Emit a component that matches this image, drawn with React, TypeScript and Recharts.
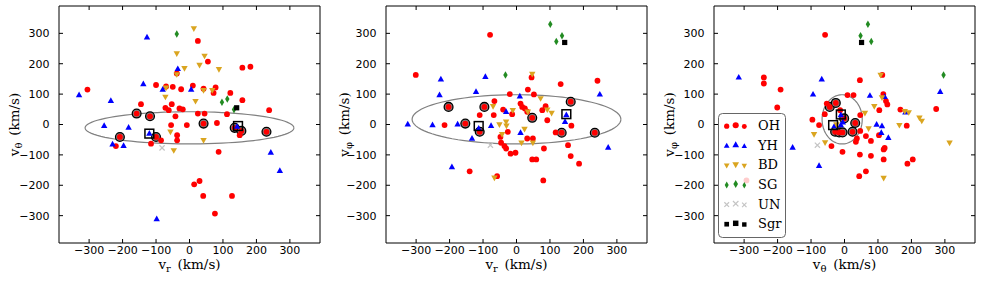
import React from 'react';
import { ScatterChart, Scatter, XAxis, YAxis, ReferenceArea, Legend } from 'recharts';

const TICKS = [-300, -200, -100, 0, 100, 200, 300];
const LIM: [number, number] = [-390, 390];

// ---- panel 1: v_r vs v_theta ----
const ohRT = [[-305, 115], [-100, 130], [-70, 125], [-50, 124], [-25, 116], [10, 128], [25, 275], [55, 207], [42, 118], [78, 122], [72, 104], [122, 104], [158, 187], [182, 190], [158, 80], [238, 47], [112, 34], [-145, 67], [-72, 55], [-62, 47], [-53, 67], [-30, 53], [-20, 50], [-42, 27], [25, 36], [45, 36], [-55, -2], [-8, -2], [82, 5], [-38, 168], [-37, -35], [-37, -52], [-85, -52], [-115, -63], [-220, -71], [150, -35], [87, -90], [14, -197], [30, -186], [41, -235], [127, -235], [76, -293]];
const ringRT = [[-158, 36], [-118, 27], [-208, -41], [-100, -41], [42, 3], [135, -11], [155, -21], [230, -24]];
const boxRT = [[-120, -30], [145, -5]];
const yhRT = [[-330, 97], [-235, 78], [-138, 133], [-127, 287], [-80, 115], [-35, 183], [5, 115], [-255, -4], [-182, -10], [-230, -65], [-197, -70], [-120, -30], [142, -7], [243, -92], [270, -152], [-98, -311]];
const bdRT = [[13, 316], [-38, 234], [45, 226], [30, 196], [-15, 185], [88, 182], [-38, 165], [-72, 91], [-70, 121], [42, 113], [68, 113], [18, 77], [-57, -24], [42, -52], [-47, -85]];
const sgRT = [[-38, 298], [97, 73], [113, 84], [133, 49]];
const unRT = [[-82, -77]];
const sgrRT = [[141, 55]];

// ---- panel 2: v_r vs v_phi ----
const ohRP = [[-79, 295], [-301, 163], [45, 155], [132, 133], [242, 144], [-20, 100], [34, 115], [52, 99], [-66, 77], [-40, 49], [12, 69], [17, 58], [25, 53], [32, 42], [87, 60], [77, 47], [92, 14], [-110, 31], [-68, 31], [-13, 34], [-215, -2], [164, -4], [32, -46], [49, -46], [117, -26], [-48, -41], [-26, -24], [-46, -60], [-36, -71], [-31, -79], [-18, -96], [-3, -93], [47, -115], [59, -115], [82, -79], [154, -68], [162, -104], [187, -129], [-140, -154], [-58, -170], [80, -184]];
const ringRP = [[-203, 58], [-96, 58], [162, 75], [-153, 3], [47, 22], [-110, -24], [135, -27], [234, -27]];
const boxRP = [[-113, -5], [149, 34]];
const yhRP = [[-226, 149], [-93, 157], [-230, 97], [-121, 108], [10, 93], [249, 99], [-31, 42], [149, 31], [145, 9], [-325, 1], [-251, -2], [-176, 1], [-113, -13], [-76, -4], [12, -27], [-133, -46], [274, -76], [-193, -140]];
const bdRP = [[47, 166], [72, 86], [-70, 60], [-11, 47], [34, 42], [92, 49], [105, 38], [-51, 0], [-31, 9], [-30, -4], [24, -15], [-43, -32], [15, -60], [49, -60], [-66, -175]];
const sgRP = [[101, 330], [136, 292], [119, 273], [-33, 163]];
const unRP = [[-78, -68]];
const sgrRP = [[144, 270]];

// ---- panel 3: v_theta vs v_phi ----
const ohTP = [[-58, 295], [-241, 155], [-241, 135], [-191, 115], [46, 146], [113, 163], [-201, 56], [9, 97], [27, 97], [116, 100], [104, 47], [124, 77], [128, 66], [167, 49], [274, 51], [103, -35], [186, -4], [120, -77], [117, -82], [117, -115], [188, -129], [204, -115], [46, -99], [79, -103], [64, -154], [44, -170], [-96, 16], [-76, -2], [-39, -71], [-6, -90], [-13, 47], [-53, 69], [-59, 34], [47, 31], [47, -21], [37, -46], [34, -57], [64, -38], [79, -54], [-293, -184]];
const ringTP = [[-44, 58], [-26, 71], [-1, 20], [32, 5], [24, -24], [-28, -24], [-16, -26], [-6, -26]];
const boxTP = [[-34, -2], [-11, 33]];
const yhTP = [[-316, 155], [-68, 149], [286, 108], [-94, 99], [76, 95], [120, 91], [182, 40], [96, 0], [112, -5], [110, -27], [131, -44], [-76, -136], [-155, -76], [-11, 31], [-30, -5], [-11, -2], [-5, 7]];
const bdTP = [[108, 163], [112, 89], [89, 60], [61, 38], [180, 44], [192, 40], [224, 22], [231, 12], [72, -13], [164, -2], [314, -60], [117, -176], [-91, -32], [-58, -59], [-24, 0]];
const sgTP = [[70, 330], [48, 292], [80, 273], [296, 163]];
const unTP = [[-81, -68]];
const sgrTP = [[51, 270]];

// velocity ellipses: centre and semi-axes (km/s)
const ellRT = { cx: 0, cy: -11, a: 312, b: 53 };
const ellRP = { cx: 0, cy: 17, a: 312, b: 81 };
const ellTP = { cx: -7, cy: 17, a: 60, b: 81 };

const RED = '#ff0000';
const BLUE = '#0000ff';
const GOLD = '#daa520';
const GREEN = '#228b22';
const LGRAY = '#c4c4c4';

const PLOT_W = 261;
const PLOT_H = 237;
const TICK_LEN = 4;
const X_PAD = 3;
const Y_PAD = 9.5;

const toXY = (arr: number[][]) => arr.map(([x, y]) => ({ x, y }));

const ellipse = (e: { cx: number; cy: number; a: number; b: number }) => {
  const pts = [];
  for (let i = 0; i <= 90; i++) {
    const t = (i / 90) * 2 * Math.PI;
    pts.push({ x: e.cx + e.a * Math.cos(t), y: e.cy + e.b * Math.sin(t) });
  }
  return pts;
};

const mOH = (x: number, y: number, s = 1) => <circle cx={x} cy={y} r={2.9 * s} fill={RED} />;
const mYH = (x: number, y: number, s = 1) => (
  <path d={`M${x},${y - 3.5 * s}L${x + 3.2 * s},${y + 2.2 * s}L${x - 3.2 * s},${y + 2.2 * s}Z`} fill={BLUE} />
);
const mBD = (x: number, y: number, s = 1) => (
  <path d={`M${x},${y + 3.5 * s}L${x + 3.2 * s},${y - 2.2 * s}L${x - 3.2 * s},${y - 2.2 * s}Z`} fill={GOLD} />
);
const mSG = (x: number, y: number, s = 1) => (
  <path d={`M${x},${y - 3.8 * s}L${x + 2.2 * s},${y}L${x},${y + 3.8 * s}L${x - 2.2 * s},${y}Z`} fill={GREEN} />
);
const mUN = (x: number, y: number, s = 1) => (
  <path d={`M${x - 2.6 * s},${y - 2.6 * s}L${x + 2.6 * s},${y + 2.6 * s}M${x - 2.6 * s},${y + 2.6 * s}L${x + 2.6 * s},${y - 2.6 * s}`} stroke={LGRAY} strokeWidth={1.2} fill="none" />
);
const mSgr = (x: number, y: number, s = 1) => (
  <rect x={x - 2.6 * s} y={y - 2.6 * s} width={5.2 * s} height={5.2 * s} fill="#000" />
);

const shapeOf = (m: (x: number, y: number, s?: number) => React.ReactElement) => (p: any) => m(p.cx, p.cy);
const ringShape = (p: any) => <circle cx={p.cx} cy={p.cy} r={4.4} fill="#808080" stroke="#000" strokeWidth={1.3} />;
const boxShape = (p: any) => (
  <rect x={p.cx - 4.4} y={p.cy - 4.4} width={8.8} height={8.8} fill="none" stroke="#000" strokeWidth={1.5} />
);
const noShape = () => <g />;

const fmt = (v: number) => (v < 0 ? '\u2212' + Math.abs(v) : String(v));

const XTick = (props: any) => {
  const { x, y, payload } = props;
  const base = y - X_PAD;
  return (
    <g>
      <line x1={x} x2={x} y1={base} y2={base - TICK_LEN} stroke="#000" />
      <line x1={x} x2={x} y1={base - PLOT_H} y2={base - PLOT_H + TICK_LEN} stroke="#000" />
      <text x={x} y={y} dy="0.71em" textAnchor="middle" fontSize={11} fontFamily="DejaVu Sans" fill="#000">
        {fmt(payload.value)}
      </text>
    </g>
  );
};

const YTick = (props: any) => {
  const { x, y, payload } = props;
  const base = x + Y_PAD;
  return (
    <g>
      <line x1={base} x2={base + TICK_LEN} y1={y} y2={y} stroke="#000" />
      <line x1={base + PLOT_W} x2={base + PLOT_W - TICK_LEN} y1={y} y2={y} stroke="#000" />
      <text x={x} y={y} dy="0.36em" textAnchor="end" fontSize={11} fontFamily="DejaVu Sans" fill="#000">
        {fmt(payload.value)}
      </text>
    </g>
  );
};

const xLabel = (sub: string) => (props: any) => {
  const vb = props.viewBox;
  return (
    <text x={vb.x + vb.width / 2} y={vb.y + 26} textAnchor="middle" fontFamily="DejaVu Serif" fontSize={13.5} fill="#000">
      v<tspan fontSize={10} dy={3}>{sub}</tspan>
      <tspan dy={-3}>{'\u2002(km/s)'}</tspan>
    </text>
  );
};

const yLabel = (sub: string) => (props: any) => {
  const vb = props.viewBox;
  const x = vb.x + 19;
  const y = vb.y + vb.height / 2;
  return (
    <text x={x} y={y} transform={`rotate(-90 ${x} ${y})`} textAnchor="middle" fontFamily="DejaVu Serif" fontSize={13.5} fill="#000">
      v<tspan fontSize={10} dy={3}>{sub}</tspan>
      <tspan dy={-3}>{'\u2002(km/s)'}</tspan>
    </text>
  );
};

const LEGEND_ROWS = [
  { label: 'OH', m: mOH },
  { label: 'YH', m: mYH },
  { label: 'BD', m: mBD },
  { label: 'SG', m: mSG },
  { label: 'UN', m: mUN },
  { label: 'Sgr', m: mSgr },
];
const LEG_X = [8.7, 17.7, 26.3];
const LEG_DY = [0.5, -0.4, 0.8];
const LEG_S = [0.9, 1.05, 0.85];

const renderLegend = () => (
  <svg width={68} height={125} style={{ display: 'block' }}>
    <rect x={0.5} y={0.5} width={67} height={124} rx={4} fill="#fff" fillOpacity={0.8} stroke="#666" />
    {LEGEND_ROWS.map((r, i) => {
      const cy = 12.7 + i * 19.6;
      return (
        <g key={r.label}>
          {LEG_X.map((mx, j) => (
            <g key={j}>{r.m(mx, cy + LEG_DY[j], LEG_S[j])}</g>
          ))}
          <text x={40} y={cy} dy="0.35em" fontFamily="DejaVu Serif" fontSize={13} fill="#000">
            {r.label}
          </text>
        </g>
      );
    })}
  </svg>
);

interface PanelProps {
  left: number;
  yw: number;
  xs: string;
  ys: string;
  oh: number[][];
  ring: number[][];
  box: number[][];
  yh: number[][];
  bd: number[][];
  sg: number[][];
  un: number[][];
  sgr: number[][];
  ell: { cx: number; cy: number; a: number; b: number };
  legend?: boolean;
}

const Panel: React.FC<PanelProps> = (p) => (
  <div style={{ position: 'absolute', left: p.left, top: 0 }}>
    <ScatterChart width={p.yw + PLOT_W + 2} height={289} margin={{ top: 6, right: 2, bottom: 0, left: 0 }}>
      <XAxis
        type="number"
        dataKey="x"
        domain={LIM}
        ticks={TICKS}
        interval={0}
        allowDataOverflow
        axisLine={false}
        tickLine={false}
        tickSize={0}
        tickMargin={X_PAD}
        tick={XTick}
        height={289 - 6 - PLOT_H}
        label={xLabel(p.xs)}
      />
      <YAxis
        type="number"
        dataKey="y"
        domain={LIM}
        ticks={TICKS}
        interval={0}
        allowDataOverflow
        axisLine={false}
        tickLine={false}
        tickSize={0}
        tickMargin={Y_PAD}
        tick={YTick}
        width={p.yw}
        label={yLabel(p.ys)}
      />
      <Scatter data={ellipse(p.ell)} line={{ stroke: '#808080', strokeWidth: 1.2 }} shape={noShape} legendType="none" isAnimationActive={false} />
      <Scatter data={toXY(p.ring)} shape={ringShape} isAnimationActive={false} />
      <Scatter data={toXY(p.oh)} shape={shapeOf(mOH)} isAnimationActive={false} />
      <Scatter data={toXY(p.ring)} shape={shapeOf(mOH)} isAnimationActive={false} />
      <Scatter data={toXY(p.yh)} shape={shapeOf(mYH)} isAnimationActive={false} />
      <Scatter data={toXY(p.bd)} shape={shapeOf(mBD)} isAnimationActive={false} />
      <Scatter data={toXY(p.sg)} shape={shapeOf(mSG)} isAnimationActive={false} />
      <Scatter data={toXY(p.un)} shape={shapeOf(mUN)} isAnimationActive={false} />
      <Scatter data={toXY(p.sgr)} shape={shapeOf(mSgr)} isAnimationActive={false} />
      <Scatter data={toXY(p.box)} shape={boxShape} isAnimationActive={false} />
      <ReferenceArea x1={LIM[0]} x2={LIM[1]} y1={LIM[0]} y2={LIM[1]} fill="none" stroke="#000" strokeWidth={1} />
      {p.legend && (
        <Legend
          content={renderLegend}
          layout="vertical"
          align="center"
          verticalAlign="middle"
          wrapperStyle={{ left: 63, top: 113, width: 68, height: 125 }}
        />
      )}
    </ScatterChart>
  </div>
);

export default function App() {
  return (
    <div style={{ position: 'absolute', left: 0, top: 0, width: 981, height: 289, background: '#fff' }}>
      <Panel left={0} yw={59} xs="r" ys="θ" oh={ohRT} ring={ringRT} box={boxRT} yh={yhRT} bd={bdRT} sg={sgRT} un={unRT} sgr={sgrRT} ell={ellRT} />
      <Panel left={330} yw={56} xs="r" ys="φ" oh={ohRP} ring={ringRP} box={boxRP} yh={yhRP} bd={bdRP} sg={sgRP} un={unRP} sgr={sgrRP} ell={ellRP} />
      <Panel left={655} yw={59} xs="θ" ys="φ" oh={ohTP} ring={ringTP} box={boxTP} yh={yhTP} bd={bdTP} sg={sgTP} un={unTP} sgr={sgrTP} ell={ellTP} legend />
    </div>
  );
}
